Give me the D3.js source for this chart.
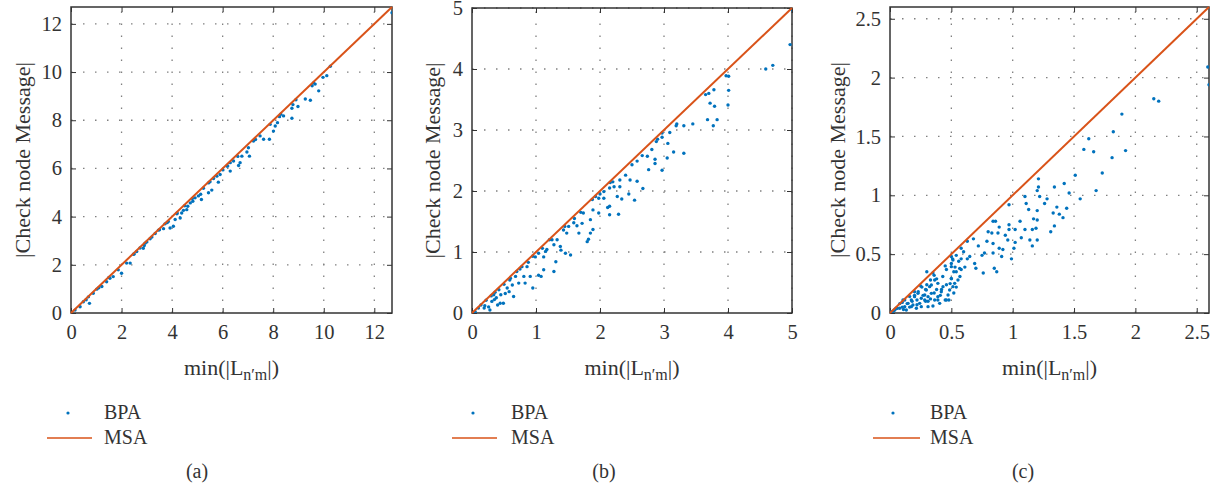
<!DOCTYPE html>
<html>
<head>
<meta charset="utf-8">
<script src="https://cdn.jsdelivr.net/npm/d3@7"></script>
<style>
  body { margin: 0; background: #fff; }
  svg text { font-family: "Liberation Serif", "Times New Roman", "DejaVu Serif", serif; fill: #333; }
</style>
</head>
<body>
<svg id="chart" width="1223" height="490"></svg>
<script>
// --- Dados ---
// (a) pontos BPA [min|L|, |mensagem|]
const bpaA = [
  [12.7, 12.46], [10.26, 10.24], [10.12, 9.85], [9.97, 9.78], [9.8, 9.22], [9.66, 9.5],
  [9.54, 9.43], [9.47, 8.83], [9.27, 8.88], [8.98, 8.57], [8.78, 8.65], [8.74, 8.5],
  [8.74, 8.08], [8.41, 8.18], [8.25, 8.15], [8.17, 7.9], [8.08, 7.76], [8.01, 7.55],
  [7.85, 7.21], [7.88, 7.83], [7.48, 7.35], [7.62, 7.21], [7.22, 7.14], [7.02, 6.86],
  [6.96, 6.68], [7.06, 6.51], [6.76, 6.51], [6.69, 6.24], [6.63, 6.12], [6.43, 6.31],
  [6.3, 6.24], [6.3, 5.89], [6.17, 6.1], [6.01, 5.94], [5.77, 5.68], [5.83, 5.43],
  [5.64, 5.58], [5.44, 5.4], [5.57, 5.1], [5.44, 4.99], [5.24, 5.18], [5.13, 4.93],
  [5.16, 4.71], [5.04, 4.86], [4.91, 4.78], [4.82, 4.64], [4.72, 4.57], [4.62, 4.43],
  [4.58, 4.29], [4.45, 4.26], [4.38, 4.15], [4.32, 3.94], [4.19, 4.12], [4.12, 3.88],
  [4.05, 3.6], [3.92, 3.53], [3.85, 3.8], [3.72, 3.7], [3.66, 3.5], [3.46, 3.44],
  [3.33, 3.3], [3.2, 3.15], [3.13, 3.08], [2.93, 2.9], [2.86, 2.69], [2.73, 2.7],
  [2.6, 2.55], [2.47, 2.44], [2.34, 2.07], [2.2, 2.07], [2.0, 1.65], [1.87, 1.79],
  [1.67, 1.51], [1.54, 1.44], [1.41, 1.3], [1.22, 1.1], [1.02, 0.99], [0.88, 0.82],
  [0.69, 0.67], [0.73, 0.4], [0.49, 0.47], [0.36, 0.26], [0.16, 0.12], [1.5, 1.48],
  [2.5, 2.45], [3.0, 2.95], [3.5, 3.45], [4.2, 4.15], [4.8, 4.75], [5.5, 5.45],
  [6.2, 6.1], [6.6, 6.5], [7.3, 7.2], [8.3, 8.25], [8.9, 8.85], [9.6, 9.55],
  [1.1, 1.05], [0.6, 0.55], [3.8, 3.75], [2.9, 2.8], [4.5, 4.45], [5.9, 5.75]
];

// (b) pontos BPA
const bpaB = [
  [4.97, 4.4], [4.7, 4.06], [4.59, 4.0], [4.01, 3.88], [3.97, 3.89], [4.01, 3.65],
  [4.0, 3.41], [3.78, 3.66], [3.72, 3.44], [3.79, 3.39], [3.65, 3.58], [3.68, 3.17],
  [3.83, 3.17], [3.77, 3.07], [3.45, 3.1], [3.31, 3.07], [3.31, 2.62], [3.19, 3.07],
  [3.15, 2.64], [3.09, 2.96], [3.06, 2.78], [3.05, 2.54], [2.97, 2.95], [2.97, 2.88],
  [2.97, 2.34], [2.88, 2.81], [2.81, 2.68], [2.86, 2.52], [2.86, 2.45], [2.74, 2.57],
  [2.76, 2.35], [2.66, 2.58], [2.67, 2.04], [2.58, 2.49], [2.5, 2.43], [2.58, 2.16],
  [2.54, 1.85], [2.47, 2.18], [2.45, 1.95], [2.4, 2.26], [2.31, 2.18], [2.31, 2.07],
  [2.34, 1.87], [2.27, 1.91], [2.29, 1.62], [2.22, 2.07], [2.16, 2.14], [2.15, 2.05],
  [2.15, 1.75], [2.15, 1.61], [2.12, 1.73], [2.06, 1.99], [2.06, 1.88], [1.98, 1.88],
  [1.98, 1.64], [1.93, 1.91], [1.88, 1.86], [1.89, 1.69], [1.85, 1.53], [1.89, 1.37],
  [1.85, 1.31], [1.8, 1.17], [1.82, 1.21], [1.74, 1.64], [1.72, 1.47], [1.64, 1.43],
  [1.67, 1.31], [1.59, 1.48], [1.51, 1.42], [1.54, 0.95], [1.48, 1.31], [1.43, 1.36],
  [1.46, 0.98], [1.39, 1.03], [1.38, 1.09], [1.33, 1.2], [1.31, 0.84], [1.28, 1.12],
  [1.28, 0.68], [1.21, 1.2], [1.17, 1.04], [1.15, 1.01], [1.12, 0.92], [1.12, 0.71],
  [1.08, 0.6], [1.04, 0.98], [1.04, 0.62], [0.99, 0.92], [0.95, 0.41], [0.91, 0.6],
  [0.86, 0.76], [0.83, 0.49], [0.81, 0.6], [0.78, 0.76], [0.73, 0.49], [0.7, 0.68],
  [0.68, 0.6], [0.65, 0.27], [0.63, 0.46], [0.59, 0.54], [0.55, 0.41], [0.52, 0.32],
  [0.49, 0.16], [0.44, 0.16], [0.4, 0.13], [0.36, 0.34], [0.34, 0.3], [0.31, 0.19],
  [0.26, 0.1], [0.22, 0.21], [0.19, 0.08], [0.14, 0.13], [0.1, 0.08], [0.05, 0.02],
  [0.3, 0.28], [0.5, 0.47], [0.75, 0.72], [0.95, 0.93], [1.25, 1.2], [1.45, 1.42],
  [1.7, 1.65], [2.0, 1.95], [2.2, 2.15], [2.9, 2.85], [3.2, 3.1], [3.7, 3.6],
  [5.0, 4.97], [0.6, 0.57], [0.42, 0.38], [1.1, 1.06], [1.6, 1.55], [0.88, 0.83],
  [0.2, 0.12], [0.35, 0.22], [0.45, 0.3], [0.58, 0.35], [0.28, 0.05], [0.38, 0.25]
];

// (c) pontos BPA
const bpaC = [
  [2.59, 2.09], [2.6, 1.94], [2.15, 1.82], [2.19, 1.8], [1.89, 1.69], [1.82, 1.54],
  [1.81, 1.32], [1.92, 1.38], [1.62, 1.48], [1.58, 1.39], [1.66, 1.37], [1.73, 1.19],
  [1.68, 1.04], [1.51, 1.17], [1.55, 0.97], [1.46, 1.02], [1.42, 1.1], [1.34, 1.07],
  [1.44, 0.89], [1.41, 0.81], [1.36, 0.9], [1.38, 0.84], [1.33, 0.85], [1.31, 0.69],
  [1.34, 0.74], [1.28, 0.97], [1.26, 0.93], [1.22, 0.99], [1.21, 1.14], [1.21, 1.07],
  [1.2, 1.04], [1.2, 0.87], [1.2, 0.79], [1.19, 0.72], [1.2, 0.62], [1.17, 0.8],
  [1.16, 0.71], [1.14, 0.62], [1.16, 0.57], [1.13, 0.88], [1.11, 0.93], [1.1, 0.99],
  [1.1, 0.71], [1.06, 0.78], [1.02, 0.71], [1.02, 0.6], [1.01, 0.55], [0.99, 0.46],
  [1.07, 0.64], [0.97, 0.92], [0.97, 0.75], [0.97, 0.71], [0.96, 0.62], [0.94, 0.66],
  [0.92, 0.54], [0.91, 0.48], [0.89, 0.73], [0.88, 0.68], [0.89, 0.55], [0.86, 0.78],
  [0.84, 0.78], [0.83, 0.68], [0.84, 0.59], [0.84, 0.51], [0.85, 0.38], [0.87, 0.35],
  [0.8, 0.69], [0.79, 0.61], [0.77, 0.51], [0.75, 0.49], [0.76, 0.34], [0.72, 0.57],
  [0.69, 0.42], [0.7, 0.38], [0.68, 0.63], [0.65, 0.48], [0.63, 0.46], [0.6, 0.52],
  [0.58, 0.55], [0.58, 0.46], [0.56, 0.44], [0.54, 0.49], [0.53, 0.39], [0.51, 0.46],
  [0.5, 0.42], [0.52, 0.35], [0.5, 0.29], [0.49, 0.25], [0.54, 0.22], [0.52, 0.17],
  [0.46, 0.37], [0.46, 0.24], [0.45, 0.11], [0.48, 0.11], [0.43, 0.31], [0.42, 0.2],
  [0.38, 0.29], [0.38, 0.2], [0.39, 0.11], [0.36, 0.17], [0.33, 0.28], [0.33, 0.12],
  [0.3, 0.24], [0.29, 0.2], [0.29, 0.1], [0.26, 0.22], [0.27, 0.15], [0.23, 0.18],
  [0.22, 0.11], [0.2, 0.15], [0.18, 0.1], [0.16, 0.14], [0.14, 0.08], [0.12, 0.11],
  [0.1, 0.05], [0.08, 0.08], [0.06, 0.04], [0.04, 0.03], [0.02, 0.01], [0.01, 0.01],
  [0.3, 0.35], [0.35, 0.34], [0.58, 0.37], [0.63, 0.61], [0.61, 0.39], [0.57, 0.31],
  [0.11, 0.03], [0.16, 0.05], [0.22, 0.07], [0.31, 0.1], [0.41, 0.15], [0.05, 0.04],
  [0.1, 0.09], [0.2, 0.18], [0.25, 0.23], [0.36, 0.32], [0.45, 0.4], [0.03, 0.02],
  [0.038, 0.025], [0.079, 0.04], [0.12, 0.054], [0.147, 0.082], [0.106, 0.11], [0.174, 0.11],
  [0.2, 0.139], [0.228, 0.167], [0.187, 0.068], [0.242, 0.082], [0.255, 0.125], [0.283, 0.11],
  [0.31, 0.139], [0.296, 0.195], [0.323, 0.224], [0.337, 0.167], [0.364, 0.11], [0.39, 0.139],
  [0.418, 0.181], [0.432, 0.224], [0.39, 0.252], [0.364, 0.28], [0.337, 0.238], [0.283, 0.153],
  [0.255, 0.054], [0.215, 0.04], [0.174, 0.054], [0.133, 0.025], [0.31, 0.054], [0.35, 0.06],
  [0.405, 0.082], [0.459, 0.11], [0.473, 0.153], [0.486, 0.195], [0.513, 0.224], [0.527, 0.252],
  [0.554, 0.28], [0.5, 0.294], [0.54, 0.351], [0.568, 0.379], [0.5, 0.394], [0.513, 0.45],
  [0.5, 0.48]
];

// Linhas MSA (|mensagem| = min|L|)
const msaA = [[0, 0], [12.7, 12.7]];
const msaB = [[0, 0], [5, 5]];
const msaC = [[0, 0], [2.6, 2.6]];

// Ticks e rótulos
const ticksA = [0, 2, 4, 6, 8, 10, 12];
const ticksB = [0, 1, 2, 3, 4, 5];
const ticksC = [0, 0.5, 1, 1.5, 2, 2.5];
const legendLabels = ["BPA", "MSA"];
const captions = ["(a)", "(b)", "(c)"];

// --- Configurações de layout ---
const blue = "#0072BD";
const orange = "#D95319";
const serif = "'Liberation Serif', 'Times New Roman', 'DejaVu Serif', serif";
const panels = [
  { bpa: bpaA, msa: msaA, ticks: ticksA, max: 12.7, left: 71, right: 392, top: 7, bottom: 313,
    ylabX: 22, legDot: 68, legLine: [47, 92], legText: 104, capX: 197 },
  { bpa: bpaB, msa: msaB, ticks: ticksB, max: 5, left: 472, right: 792, top: 8, bottom: 313,
    ylabX: 432, legDot: 473, legLine: [452, 497], legText: 511, capX: 604 },
  { bpa: bpaC, msa: msaC, ticks: ticksC, max: 2.6, left: 890, right: 1209, top: 7, bottom: 313,
    ylabX: 837, legDot: 893, legLine: [873, 920], legText: 930, capX: 1023 }
];

const svg = d3.select("#chart");

panels.forEach((p, i) => {
  const x = d3.scaleLinear().domain([0, p.max]).range([p.left, p.right]);
  const y = d3.scaleLinear().domain([0, p.max]).range([p.bottom, p.top]);
  const g = svg.append("g");

  // área de recorte
  g.append("clipPath").attr("id", "clip" + i)
    .append("rect")
    .attr("x", p.left).attr("y", p.top)
    .attr("width", p.right - p.left).attr("height", p.bottom - p.top);

  // grade pontilhada
  const grid = g.append("g")
    .attr("stroke", "#808080")
    .attr("stroke-width", 1.3)
    .attr("stroke-dasharray", "1.5,10.5");
  grid.selectAll(".gx").data(p.ticks.filter(t => t > 0))
    .enter().append("line")
    .attr("x1", d => x(d)).attr("x2", d => x(d))
    .attr("y1", p.bottom).attr("y2", p.top);
  grid.selectAll(".gy").data(p.ticks.filter(t => t > 0))
    .enter().append("line")
    .attr("y1", d => y(d)).attr("y2", d => y(d))
    .attr("x1", p.left).attr("x2", p.right);

  // eixos (ticks para dentro, nos quatro lados)
  const fmt = d => String(d);
  const axB = g.append("g").attr("transform", `translate(0,${p.bottom})`)
    .call(d3.axisBottom(x).tickValues(p.ticks).tickFormat(fmt).tickSizeInner(-5).tickSizeOuter(0).tickPadding(11));
  const axT = g.append("g").attr("transform", `translate(0,${p.top})`)
    .call(d3.axisTop(x).tickValues(p.ticks).tickFormat("").tickSizeInner(-5).tickSizeOuter(0));
  const axL = g.append("g").attr("transform", `translate(${p.left},0)`)
    .call(d3.axisLeft(y).tickValues(p.ticks).tickFormat(fmt).tickSizeInner(-5).tickSizeOuter(0).tickPadding(9));
  const axR = g.append("g").attr("transform", `translate(${p.right},0)`)
    .call(d3.axisRight(y).tickValues(p.ticks).tickFormat("").tickSizeInner(-5).tickSizeOuter(0));
  [axB, axT, axL, axR].forEach(a => {
    a.attr("font-family", serif);
    a.select(".domain").remove();
    a.selectAll("line").attr("stroke", "#333").attr("stroke-width", 1);
    a.selectAll("text").attr("font-size", 20.5).attr("fill", "#333");
  });

  // moldura
  g.append("rect")
    .attr("x", p.left).attr("y", p.top)
    .attr("width", p.right - p.left).attr("height", p.bottom - p.top)
    .attr("fill", "none").attr("stroke", "#333").attr("stroke-width", 1.5);

  // pontos BPA
  g.append("g").attr("clip-path", `url(#clip${i})`)
    .selectAll("circle").data(p.bpa)
    .enter().append("circle")
    .attr("cx", d => x(d[0])).attr("cy", d => y(d[1]))
    .attr("r", 1.7).attr("fill", blue);

  // linha MSA
  g.append("path").datum(p.msa)
    .attr("d", d3.line().x(d => x(d[0])).y(d => y(d[1])))
    .attr("fill", "none").attr("stroke", orange).attr("stroke-width", 2);

  // rótulo eixo Y
  g.append("text")
    .attr("transform", `translate(${p.ylabX},${(p.top + p.bottom) / 2}) rotate(-90)`)
    .attr("text-anchor", "middle").attr("dominant-baseline", "central")
    .attr("font-size", 22)
    .text("|Check node Message|");

  // rótulo eixo X: min(|L_{n′m}|)
  const xl = g.append("text")
    .attr("x", (p.left + p.right) / 2).attr("y", 375)
    .attr("text-anchor", "middle").attr("font-size", 22);
  xl.append("tspan").text("min(|L");
  xl.append("tspan").attr("font-size", 16).attr("dy", 5).text("n\u2032m");
  xl.append("tspan").attr("dy", -5).text("|)");

  // legenda
  g.append("circle").attr("cx", p.legDot).attr("cy", 413).attr("r", 1.6).attr("fill", blue);
  g.append("line")
    .attr("x1", p.legLine[0]).attr("x2", p.legLine[1])
    .attr("y1", 438).attr("y2", 438)
    .attr("stroke", orange).attr("stroke-width", 1.5);
  g.selectAll(".leg").data(legendLabels)
    .enter().append("text")
    .attr("x", p.legText).attr("y", (d, k) => 419 + k * 25)
    .attr("font-size", 20)
    .text(d => d);

  // legenda do painel
  g.append("text")
    .attr("x", p.capX).attr("y", 478)
    .attr("text-anchor", "middle").attr("font-size", 20)
    .text(captions[i]);
});
</script>
</body>
</html>
